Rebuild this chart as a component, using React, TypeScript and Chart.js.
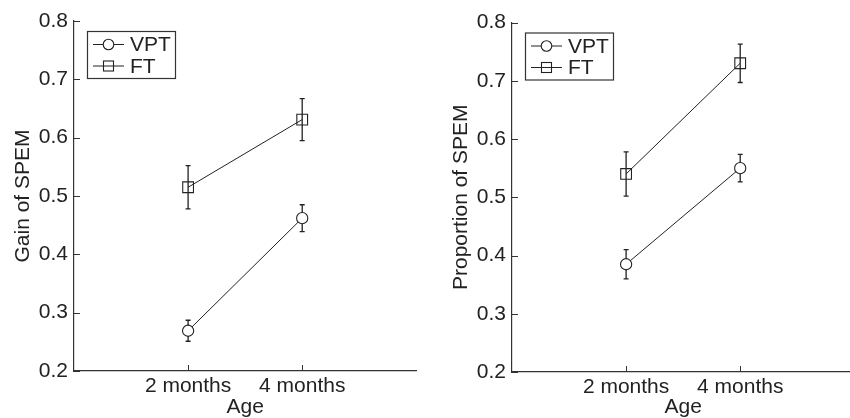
import React, { useEffect, useRef } from "react";
import { Chart, registerables } from "chart.js";

Chart.register(...registerables);

// ---- data ----
const categories = ["2 months", "4 months"];
const categoryPositions = [1, 2];
const yTickValues = [0.2, 0.3, 0.4, 0.5, 0.6, 0.7, 0.8];
const seriesNames = ["VPT", "FT"];

const gainVPT = [0.269, 0.462];
const gainVPTErr = [0.018, 0.023];
const gainFT = [0.515, 0.631];
const gainFTErr = [0.037, 0.036];

const propVPT = [0.385, 0.55];
const propVPTErr = [0.025, 0.0235];
const propFT = [0.54, 0.73];
const propFTErr = [0.038, 0.033];

const FONT = "'Liberation Sans', Arial, Helvetica, sans-serif";
const FS = 21;
const TEXT = "#222";
const LINE = "#222";

const errorBarPlugin = {
  id: "errorBars",
  beforeDatasetsDraw(chart: any) {
    const ctx = chart.ctx;
    const yScale = chart.scales.y;
    ctx.save();
    chart.data.datasets.forEach((ds: any, i: number) => {
      const meta = chart.getDatasetMeta(i);
      meta.data.forEach((el: any, j: number) => {
        const v = ds.data[j].y;
        const e = ds.errors[j];
        const top = yScale.getPixelForValue(v + e);
        const bot = yScale.getPixelForValue(v - e);
        ctx.strokeStyle = LINE;
        ctx.lineWidth = 1.3;
        ctx.beginPath();
        ctx.moveTo(el.x, top);
        ctx.lineTo(el.x, bot);
        ctx.moveTo(el.x - 2.5, top);
        ctx.lineTo(el.x + 2.5, top);
        ctx.moveTo(el.x - 2.5, bot);
        ctx.lineTo(el.x + 2.5, bot);
        ctx.stroke();
      });
    });
    ctx.restore();
  },
};

const innerTicksPlugin = {
  id: "innerTicks",
  afterDraw(chart: any) {
    const ctx = chart.ctx;
    const { left, bottom } = chart.chartArea;
    const xs = chart.scales.x;
    const ys = chart.scales.y;
    ctx.save();
    ctx.strokeStyle = "#333";
    ctx.lineWidth = 1;
    ctx.beginPath();
    yTickValues.forEach((v) => {
      const y = Math.round(ys.getPixelForValue(v)) + 0.5;
      ctx.moveTo(left, y);
      ctx.lineTo(left + 6, y);
    });
    categoryPositions.forEach((v) => {
      const x = Math.round(xs.getPixelForValue(v)) + 0.5;
      ctx.moveTo(x, bottom);
      ctx.lineTo(x, bottom - 6);
    });
    ctx.stroke();
    ctx.restore();
  },
};

const boxLegendPlugin = {
  id: "boxLegend",
  afterDraw(chart: any) {
    const ctx = chart.ctx;
    const { left, top } = chart.chartArea;
    const bx = left + 13;
    const by = top + 10;
    const bw = 88;
    const bh = 47;
    ctx.save();
    ctx.fillStyle = "#fff";
    ctx.fillRect(bx, by, bw, bh);
    ctx.strokeStyle = "#333";
    ctx.lineWidth = 1.2;
    ctx.strokeRect(bx + 0.5, by + 0.5, bw, bh);
    chart.data.datasets.forEach((ds: any, i: number) => {
      const cy = by + 13.5 + i * 21.5;
      ctx.strokeStyle = LINE;
      ctx.lineWidth = 1;
      ctx.beginPath();
      ctx.moveTo(bx + 6, cy);
      ctx.lineTo(bx + 37, cy);
      ctx.stroke();
      const mx = bx + 21.5;
      ctx.lineWidth = 1.1;
      if (ds.pointStyle === "circle") {
        ctx.fillStyle = "#fff";
        ctx.beginPath();
        ctx.arc(mx, cy, 5.3, 0, Math.PI * 2);
        ctx.fill();
        ctx.stroke();
      } else {
        ctx.strokeRect(mx - 5, cy - 5, 10, 10);
      }
      ctx.fillStyle = TEXT;
      ctx.font = `${FS}px ${FONT}`;
      ctx.textBaseline = "middle";
      ctx.textAlign = "left";
      ctx.fillText(ds.label, bx + 43, cy + 1);
    });
    ctx.restore();
  },
};

type PanelProps = {
  left: number;
  viewWidth: number;
  canvasWidth: number;
  yAxisWidth: number;
  topPad: number;
  xAxisHeight: number;
  yTitle: string;
  yTitlePad: number;
  vpt: number[];
  vptErr: number[];
  ft: number[];
  ftErr: number[];
};

function Panel(p: PanelProps) {
  const ref = useRef<HTMLCanvasElement>(null);
  useEffect(() => {
    if (!ref.current) return;
    const chart = new Chart(ref.current, {
      type: "line",
      data: {
        datasets: [
          {
            label: seriesNames[0],
            data: categoryPositions.map((x, i) => ({ x, y: p.vpt[i] })),
            errors: p.vptErr,
            borderColor: LINE,
            borderWidth: 1,
            pointStyle: "circle",
            pointRadius: 5.6,
            pointBorderWidth: 1.1,
            pointBorderColor: LINE,
            pointBackgroundColor: "#fff",
            tension: 0,
          } as any,
          {
            label: seriesNames[1],
            data: categoryPositions.map((x, i) => ({ x, y: p.ft[i] })),
            errors: p.ftErr,
            borderColor: LINE,
            borderWidth: 1,
            pointStyle: "rect",
            pointRadius: 7.6,
            pointBorderWidth: 1.1,
            pointBorderColor: LINE,
            pointBackgroundColor: "rgba(0,0,0,0)",
            tension: 0,
          } as any,
        ],
      },
      options: {
        animation: false,
        responsive: false,
        maintainAspectRatio: false,
        events: [],
        layout: { padding: { top: p.topPad, right: 2, left: 0, bottom: 0 } },
        plugins: {
          legend: { display: false },
          tooltip: { enabled: false },
        },
        scales: {
          x: {
            type: "linear",
            min: 0,
            max: 3,
            afterBuildTicks: (s: any) => {
              s.ticks = categoryPositions.map((v) => ({ value: v }));
            },
            afterFit: (s: any) => {
              s.height = p.xAxisHeight;
            },
            ticks: {
              autoSkip: false,
              maxRotation: 0,
              padding: 2.8,
              color: TEXT,
              font: { family: FONT, size: FS },
              callback: (v: any) => categories[categoryPositions.indexOf(Number(v))] ?? "",
            },
            grid: { display: false, drawTicks: false },
            border: { display: true, color: "#333", width: 1.2 },
            title: {
              display: true,
              text: "Age",
              color: TEXT,
              font: { family: FONT, size: FS },
              padding: { top: 0, bottom: -2 },
            },
          },
          y: {
            type: "linear",
            min: 0.2,
            max: 0.8,
            afterBuildTicks: (s: any) => {
              s.ticks = yTickValues.map((v) => ({ value: v }));
            },
            afterFit: (s: any) => {
              s.width = p.yAxisWidth;
            },
            ticks: {
              autoSkip: false,
              padding: 6,
              color: TEXT,
              font: { family: FONT, size: FS },
              callback: (v: any) => Number(v).toFixed(1),
            },
            grid: { display: false, drawTicks: false },
            border: { display: true, color: "#333", width: 1.2 },
            title: {
              display: true,
              text: p.yTitle,
              color: TEXT,
              font: { family: FONT, size: FS },
              padding: { top: p.yTitlePad, bottom: 0 },
            },
          },
        },
      } as any,
      plugins: [errorBarPlugin, innerTicksPlugin, boxLegendPlugin],
    });
    return () => chart.destroy();
  }, []);
  return (
    <div
      style={{
        position: "absolute",
        left: p.left,
        top: 0,
        width: p.viewWidth,
        height: 418,
        overflow: "hidden",
      }}
    >
      <canvas
        ref={ref}
        width={p.canvasWidth}
        height={418}
        style={{ width: p.canvasWidth, height: 418, display: "block" }}
      />
    </div>
  );
}

export default function App() {
  return (
    <div
      style={{
        position: "fixed",
        left: 0,
        top: 0,
        width: 850,
        height: 418,
        background: "#fff",
        overflow: "hidden",
      }}
    >
      <Panel
        left={0}
        viewWidth={425}
        canvasWidth={425}
        yAxisWidth={74}
        topPad={21}
        xAxisHeight={47}
        yTitle="Gain of SPEM"
        yTitlePad={10.4}
        vpt={gainVPT}
        vptErr={gainVPTErr}
        ft={gainFT}
        ftErr={gainFTErr}
      />
      <Panel
        left={425}
        viewWidth={425}
        canvasWidth={438}
        yAxisWidth={87}
        topPad={22.5}
        xAxisHeight={46}
        yTitle="Proportion of SPEM"
        yTitlePad={23.8}
        vpt={propVPT}
        vptErr={propVPTErr}
        ft={propFT}
        ftErr={propFTErr}
      />
    </div>
  );
}
